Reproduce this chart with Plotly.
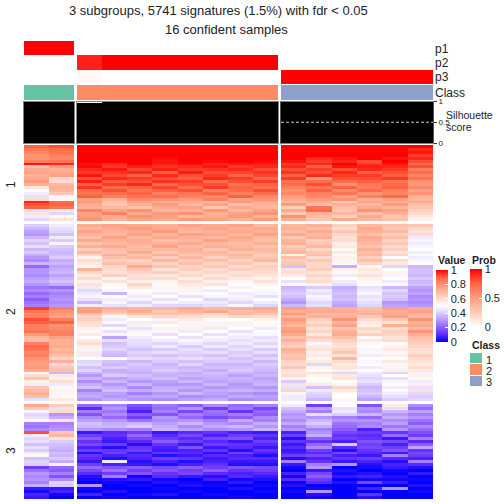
import plotly.graph_objects as go

# ---------- data (heat values in percent) ----------
s1_g1 = [[90,92],[86,88],[82,86],[80,84],[80,82],[84,86],[98,96],[68,78],[74,72],[76,74],[72,76],[74,62],[78,60],
         [72,70],[56,72],[50,70],[46,66],[44,52],[60,52],[96,88],[92,90],[90,86],[44,56],[58,42],[46,52],[42,58]]
s1_g2 = [[100,100,100,100,100,100,100,100],[100,100,100,100,100,100,100,100],[100,100,100,100,100,100,100,100],
         [100,100,100,100,100,100,100,100],[100,100,100,99,100,100,100,100],[100,100,100,98,100,99,100,99],
         [98,96,100,97,99,96,98,97],[99,94,97,95,96,98,94,96],[96,98,93,97,94,95,96,92],[94,95,96,90,97,92,93,95],
         [98,93,90,96,92,94,90,93],[92,96,94,92,90,96,94,88],[97,91,92,95,94,88,92,94],[90,94,96,88,92,92,86,90],
         [95,88,90,93,88,94,90,87],[88,92,86,90,92,84,88,92],[86,88,90,84,86,90,84,88],[90,84,86,88,84,82,90,82],
         [76,72,82,80,78,84,76,80],[78,68,76,72,74,70,78,74],[74,66,72,78,70,76,68,72],[72,70,68,74,76,66,74,70],
         [82,76,80,70,72,78,70,76],[76,84,74,78,80,72,76,80],[78,74,80,76,70,74,78,72],[80,72,76,74,78,76,72,78]]
s1_g3 = [[100,100,100,100,100,100],[100,100,100,100,100,96],[100,100,100,100,100,98],[100,100,100,100,100,94],
         [100,96,98,100,98,96],[98,94,96,92,100,92],[94,96,100,94,98,88],[96,90,98,97,96,92],[92,94,92,96,94,84],
         [95,92,96,90,92,88],[90,96,94,94,90,82],[94,78,92,92,94,86],[86,88,88,90,86,80],[88,92,80,86,88,78],
         [84,86,90,84,90,82],[80,90,82,88,84,76],[82,84,86,80,82,80],[78,82,76,84,88,72],[74,78,80,72,76,70],
         [70,74,66,76,72,74],[78,68,72,70,78,68],[64,86,68,74,70,66],[74,88,66,80,76,64],[66,72,70,68,72,60],
         [80,68,64,74,66,56],[72,66,74,70,68,54]]

s2_g1 = [[40,46],[36,44],[32,42],[30,38],[36,46],[42,40],[38,48],[44,40],[36,38],[40,36],[34,38],[30,40],[28,34],[36,36],
         [22,32],[30,34],[30,36],[28,32],[32,36],[34,38],[30,34],[24,22],[28,30],[22,26],[26,28],[20,30],[24,28],[26,30],
         [94,84],[86,80],[82,78],[84,76],[92,84],[90,90],[84,80],[84,82],[86,84],[78,84],[70,76],[68,72],
         [84,72],[88,74],[86,70],[82,72],[84,68],[80,62],[78,72],[76,60],[78,66],[74,68],
         [48,36],[60,56],[66,54],[54,60],[46,46],[66,52],[70,54],[72,48],[68,52],[44,56]]
s2_g2 = [[74,76,74,72,76,74,76,70],[70,74,78,74,72,76,72,74],[76,72,72,78,70,72,74,72],[72,70,76,70,76,74,70,76],
         [68,76,70,74,72,70,74,70],[74,72,74,68,70,76,72,68],[66,70,72,72,74,70,68,72],[72,74,68,76,68,72,70,66],
         [64,68,70,70,72,66,72,70],[70,66,74,66,70,70,66,68],[62,72,66,72,66,68,70,64],[54,68,70,64,70,64,68,66],
         [60,64,62,70,64,68,62,70],[56,68,66,62,68,62,66,60],[52,62,74,66,62,66,60,64],[72,60,66,58,64,60,64,62],
         [62,58,62,64,58,62,58,60],[56,64,58,56,62,56,60,58],[60,52,60,60,54,60,56,54],[54,58,54,54,60,54,52,58],
         [58,52,62,52,56,58,50,54],[46,50,56,48,54,50,54,50],[42,48,50,52,48,46,50,52],[46,36,52,46,52,50,46,48],
         [48,50,46,50,44,48,48,44],[44,46,48,44,50,42,46,50],[36,48,42,48,46,46,42,46],[46,44,46,42,42,44,48,42],
         [76,72,72,70,74,70,72,74],[78,68,74,66,70,74,68,70],[68,62,66,68,66,62,70,66],[62,52,58,62,60,58,62,60],
         [64,46,50,48,56,52,50,54],[60,52,46,56,52,48,54,50],[58,42,54,50,48,54,48,52],[54,50,44,48,54,46,50,46],
         [52,44,48,52,46,50,44,50],[56,48,52,44,50,44,48,48],[50,32,46,50,44,48,46,44],[56,44,44,46,48,46,44,46],
         [60,38,44,42,46,42,46,42],[54,40,42,46,40,46,42,46],[48,42,38,40,44,40,44,40],[56,38,42,44,42,44,40,44],
         [46,36,40,38,40,38,42,38],[50,50,44,42,44,42,38,42],[42,38,36,40,38,40,40,36],[44,36,40,36,42,36,36,40],
         [38,40,38,38,36,38,38,38],[42,34,36,40,38,34,40,36],[36,36,34,36,34,38,36,34],[30,40,38,34,36,36,32,36],
         [36,32,34,38,32,34,36,32],[28,36,30,32,36,32,34,34],[34,30,36,30,30,36,30,36],[38,34,28,34,34,30,32,30],
         [26,38,34,36,30,34,36,34],[32,32,26,30,36,32,30,28],[34,30,32,34,28,30,34,32],[30,34,30,28,32,34,28,30]]
s2_g3 = [[70,72,64,70,68,66],[72,68,60,74,66,62],[68,74,66,72,70,58],[74,70,62,68,64,60],[66,72,58,74,68,46],
         [70,64,60,72,62,48],[72,66,54,70,66,46],[64,70,56,66,60,48],[68,62,52,72,64,50],[70,66,56,68,58,46],
         [54,68,50,70,62,52],[68,60,54,64,50,46],[64,66,48,68,60,48],[66,62,52,62,56,50],[38,62,34,52,42,36],
         [58,64,54,56,50,38],[60,58,52,54,54,38],[56,62,46,58,48,36],[50,58,50,54,50,40],[44,60,46,52,46,36],
         [52,54,44,50,52,38],[36,40,34,44,36,32],[38,46,36,46,42,30],[40,44,38,48,38,32],[38,48,36,44,40,28],
         [34,46,38,46,38,30],[30,42,34,44,30,28],[36,44,32,42,32,30],[76,72,72,68,76,74],[72,74,74,70,72,76],
         [78,70,70,72,74,72],[70,72,72,66,76,70],[78,64,80,60,66,80],[74,60,70,56,58,72],[70,64,76,54,72,74],
         [76,58,66,62,60,70],[78,62,72,58,64,80],[74,56,74,64,62,72],[68,64,68,52,58,68],[72,60,64,56,60,66],
         [66,48,60,52,50,64],[64,56,58,50,54,62],[72,58,62,48,56,60],[70,54,66,52,52,58],[66,56,58,46,54,64],
         [68,52,70,50,50,60],[62,56,60,48,56,58],[60,42,56,50,52,56],[66,54,58,46,48,60],[58,50,54,50,54,56],
         [56,58,42,46,42,48],[60,54,56,44,50,54],[54,50,58,42,44,52],[40,52,50,44,48,46],[58,56,48,40,50,54],
         [44,38,62,36,46,44],[62,46,56,38,52,58],[48,42,52,40,46,42],[46,40,50,36,44,40],[46,36,48,32,40,42]]

s3_g1 = [[74,64],[66,44],[48,60],[42,30],[44,34],[52,58],[26,26],[24,28],[28,30],[92,66],[46,70],[42,58],[44,40],[38,38],
         [44,36],[40,34],[46,38],[52,36],[38,40],[42,34],[40,54],[14,22],[24,20],[30,26],[28,18],[30,28],[26,42],[34,40],
         [6,6],[2,8],[8,2],[6,0]]
s3_g2 = [[22,26,18,24,20,28,22,26],[10,30,14,22,30,14,24,16],[26,24,8,26,16,24,12,22],[18,28,20,18,26,22,26,20],
         [28,22,14,30,22,16,20,28],[32,30,24,28,30,26,34,26],[38,34,36,32,36,30,28,34],[36,36,40,34,28,34,36,30],
         [30,28,26,36,32,28,30,36],[6,10,14,6,10,12,8,6],[14,12,22,10,16,8,14,12],[20,8,16,14,10,16,18,8],
         [12,6,10,20,14,10,6,14],[16,14,4,12,6,14,12,10],[8,4,12,8,18,6,10,6],[14,12,14,6,8,12,4,12],
         [4,14,6,12,10,4,14,8],[12,8,10,4,6,10,8,4],[10,4,8,14,12,6,10,10],[6,46,4,8,4,8,6,6],
         [14,8,6,4,8,12,4,4],[22,18,20,16,20,14,18,16],[16,24,14,18,14,20,12,14],[10,14,18,12,16,10,8,10],
         [4,26,2,10,6,4,10,6],[2,4,6,2,0,8,2,4],[0,2,0,4,2,0,6,0],[30,0,2,0,4,2,0,2],[2,0,0,2,0,0,4,0],
         [0,4,0,0,2,0,0,2],[8,0,2,4,0,2,0,0],[0,2,0,0,0,0,2,0]]
s3_g3 = [[46,14,50,18,56,28],[38,32,44,30,44,22],[34,26,46,28,36,32],[30,44,40,36,30,26],[32,30,26,22,34,30],
         [28,36,30,30,28,24],[34,40,24,26,32,20],[26,34,22,28,24,28],[30,26,20,8,30,22],[8,30,16,14,12,18],
         [14,34,12,10,22,14],[4,20,14,12,6,26],[12,12,8,18,16,10],[6,22,40,14,8,20],[10,28,10,16,14,32],
         [6,14,4,12,18,12],[8,10,16,10,6,16],[14,16,8,6,26,14],[4,8,12,14,10,8],[26,12,6,8,4,26],
         [6,26,30,4,8,10],[2,30,0,2,6,4],[0,6,4,0,2,0],[8,16,2,4,0,6],[2,20,6,8,4,0],[10,14,0,2,2,2],
         [0,10,4,16,6,0],[4,0,0,0,0,4],[0,2,0,8,30,0],[2,30,0,0,0,2],[0,4,0,12,0,0],[0,2,0,4,0,0]]

p_g1 = [[100,100],[0,0],[0,0]]
p_g2 = [[0,0,0,0,0,0,0,0],[92,100,100,100,100,100,100,100],[3,0,0,0,0,0,0,0]]
p_g3 = [[0,0,0,0,0,0],[0,0,0,0,0,0],[100,100,100,100,100,100]]
class_g1 = [[1,1]]
class_g2 = [[2,2,2,2,2,2,2,2]]
class_g3 = [[3,3,3,3,3,3]]
sil_g1 = [1.0,1.0]
sil_g2 = [0.97,1.0,1.0,1.0,1.0,1.0,1.0,1.0]
sil_g3 = [1.0,1.0,1.0,1.0,1.0,1.0]
legend_classes = [[1],[2],[3]]
legend_labels = ["1","2","3"]
value_ticks = [0,20,40,60,80,100]
value_ticktext = ["0","0.2","0.4","0.6","0.8","1"]
prob_ticks = [0,50,100]
prob_ticktext = ["0","0.5","1"]
sil_ticks = [0,0.5,1]
sil_ticktext = ["0","0.5","1"]

# ---------- styles ----------
W = H = 504
FONT = "Liberation Sans, Arial, sans-serif"
value_scale = [[0,"#0000FF"],[0.1,"#5B28FF"],[0.2,"#8D5CFF"],[0.3,"#B596FF"],[0.4,"#DACCFF"],[0.5,"#FFFFFF"],
               [0.6,"#FFDCCF"],[0.7,"#FFB8A0"],[0.8,"#FF9272"],[0.9,"#FF6240"],[1,"#FF0000"]]
prob_scale = [[0,"#FFFFFF"],[0.25,"#FFCBB8"],[0.5,"#FF9C7F"],[0.75,"#FF6642"],[1,"#FF0000"]]
class_scale = [[0,"#66C2A5"],[0.33,"#66C2A5"],[0.34,"#FC8D62"],[0.66,"#FC8D62"],[0.67,"#8DA0CB"],[1,"#8DA0CB"]]

fig = go.Figure()
layout = dict(width=W, height=H, margin=dict(l=0,r=0,t=0,b=0,autoexpand=False), paper_bgcolor="white",
              plot_bgcolor="white", showlegend=False, bargap=0, autosize=False, hovermode=False)
n = [0]

def make_axes(x0, x1, y0, y1):
    n[0] += 1
    k = n[0]
    sfx = "" if k == 1 else str(k)
    layout["xaxis"+sfx] = dict(domain=[x0/W, x1/W], anchor="y"+sfx, visible=False)
    layout["yaxis"+sfx] = dict(domain=[1-y1/H, 1-y0/H], anchor="x"+sfx, visible=False, autorange="reversed")
    return "x"+sfx, "y"+sfx, sfx

def heat(z, box, scale, zmin, zmax, colorbar=None, gap=0):
    xa, ya, _ = make_axes(*box)
    fig.add_trace(go.Heatmap(z=z, xaxis=xa, yaxis=ya, colorscale=scale, zmin=zmin, zmax=zmax,
                             showscale=colorbar is not None, colorbar=colorbar, ygap=gap, hoverinfo="skip"))

GX = [(24,74),(77,278),(281,433)]
def cbar(x, yc, length, tv, tt):
    return dict(lenmode="pixels", len=length, thickness=12, thicknessmode="pixels", x=x/W, xanchor="left",
                y=1-yc/H, yanchor="middle", xpad=0, ypad=0, outlinewidth=0, borderwidth=0, ticks="inside",
                ticklen=3, tickcolor="white", tickvals=tv, ticktext=tt,
                tickfont=dict(family=FONT, size=11, color="#222222"))

# annotation probabilities
for g, z in enumerate([p_g1, p_g2, p_g3]):
    heat(z, (GX[g][0], GX[g][1], 41, 84), prob_scale, 0, 100,
         cbar(470, 298, 58, prob_ticks, prob_ticktext) if g == 0 else None)
# class bars
for g, z in enumerate([class_g1, class_g2, class_g3]):
    heat(z, (GX[g][0], GX[g][1], 85, 100), class_scale, 1, 3)
# silhouette
for g, v in enumerate([sil_g1, sil_g2, sil_g3]):
    xa, ya, sfx = make_axes(GX[g][0], GX[g][1], 101.5, 143)
    fig.add_trace(go.Bar(x=list(range(len(v))), y=v, xaxis=xa, yaxis=ya, width=1,
                         marker=dict(color="black", line=dict(width=0)), hoverinfo="skip"))
    layout["xaxis"+sfx].update(visible=True, range=[-0.5, len(v)-0.5], showticklabels=False, ticks="",
                               showgrid=False, zeroline=False, showline=True, mirror=True,
                               linecolor="#808080", linewidth=1)
    layout["yaxis"+sfx].update(visible=True, autorange=False, range=[0,1], showgrid=False, zeroline=False,
                               showline=True, mirror=True, linecolor="#808080", linewidth=1,
                               showticklabels=False, ticks="")
    if g == 2:
        layout["yaxis"+sfx].update(side="right", showticklabels=True, ticks="outside", ticklen=3, tickwidth=1,
                                   tickcolor="#333333", tickvals=sil_ticks, ticktext=sil_ticktext,
                                   tickfont=dict(family=FONT, size=8, color="#222222"), linecolor="#555555")
        fig.add_shape(type="line", xref=xa, yref=ya, x0=-0.5, x1=len(v)-0.5, y0=0.5, y1=0.5,
                      line=dict(color="#CCCCCC", width=1, dash="3px,2px"))
# main heatmap slices
SLICES = [(145,221,[s1_g1,s1_g2,s1_g3]), (224,401,[s2_g1,s2_g2,s2_g3]), (404,499,[s3_g1,s3_g2,s3_g3])]
first = True
for y0, y1, groups in SLICES:
    for g, z in enumerate(groups):
        heat(z, (GX[g][0], GX[g][1], y0, y1), value_scale, 0, 100,
             cbar(436, 306, 72, value_ticks, value_ticktext) if first else None)
        first = False
# class legend
heat(legend_classes, (470, 482, 353, 387), class_scale, 1, 3, gap=1)

def text(x, y, s, size=12, anchor="left", bold=False, angle=0):
    t = f"<b>{s}</b>" if bold else s
    fig.add_annotation(xref="paper", yref="paper", x=x/W, y=1-y/H, text=t, showarrow=False, xanchor=anchor,
                       yanchor="middle", textangle=angle, align="left", borderpad=0,
                       font=dict(family=FONT, size=size, color="#222222"))

text(218, 10, "3 subgroups, 5741 signatures (1.5%) with fdr &lt; 0.05", 13, "center")
text(226.5, 29, "16 confident samples", 13, "center")
for lab, y in [("p1",49),("p2",63),("p3",77),("Class",93)]:
    text(434, y, lab, 12)
text(445, 115.5, "Silhouette", 10.5)
text(445, 127, "score", 10.5)
for lab, y in [("1",185),("2",312),("3",451)]:
    text(11, y, lab, 12, "center", angle=-90)
text(437, 260, "Value", 10.5, bold=True)
text(470.5, 260, "Prob", 10.5, bold=True)
text(470.5, 345, "Class", 10.5, bold=True)
for lab, y in zip(legend_labels, [360,371,382]):
    text(485, y, lab, 11)

fig.update_layout(**layout)
fig.write_html("out.html", config={"displayModeBar": False},
               post_script="document.body.style.margin='0';document.body.style.overflow='hidden';")
